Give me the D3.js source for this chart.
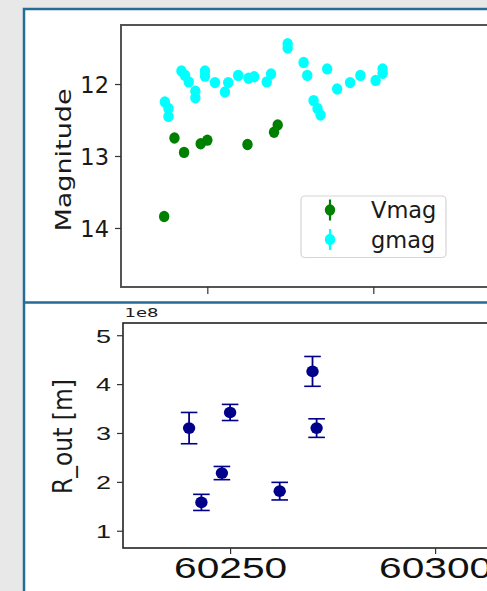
<!DOCTYPE html>
<html>
<head>
<meta charset="utf-8">
<script src="https://cdn.jsdelivr.net/npm/d3@7"></script>
<style>
  html, body { margin: 0; padding: 0; background: #e8e8e8; overflow: hidden; }
  svg { display: block; font-family: "DejaVu Sans", sans-serif; }
</style>
</head>
<body>
<svg id="fig" width="487" height="591"></svg>
<script>
// Photometry: V and g magnitudes against MJD
const mjdV = [60237.0, 60240.1, 60243.0, 60248.0, 60250.0, 60262.1, 60270.1, 60271.2];
const vmag = [13.84, 12.75, 12.95, 12.83, 12.78, 12.84, 12.67, 12.57];

const mjdG = [60237.2, 60238.3, 60238.3, 60242.2, 60243.3, 60244.4, 60246.4, 60246.4,
              60249.3, 60249.3, 60252.3, 60255.3, 60256.3, 60259.3, 60262.4, 60264.1,
              60267.9, 60269.2, 60274.2, 60274.2, 60279.0, 60280.1, 60282.0, 60283.2,
              60284.1, 60286.1, 60289.1, 60293.0, 60296.1, 60300.7, 60302.8, 60302.8];
const gmag = [12.25, 12.34, 12.45, 11.82, 11.88, 11.97, 12.10, 12.19,
              11.82, 11.89, 11.98, 12.11, 11.98, 11.88, 11.92, 11.90,
              11.97, 11.86, 11.44, 11.50, 11.70, 11.88, 12.23, 12.34,
              12.43, 11.79, 12.07, 11.98, 11.88, 11.95, 11.79, 11.85];

// Outer radius (units of 1e8 m) with 1-sigma errors
const mjdR = [60240.0, 60243.0, 60248.0, 60250.0, 60262.1, 60270.1, 60271.1];
const rOut = [3.10, 1.58, 2.18, 3.42, 1.81, 4.26, 3.10];
const rErr = [0.32, 0.165, 0.135, 0.165, 0.18, 0.305, 0.19];

const magTicks = [12, 13, 14];
const rTicks = [1, 2, 3, 4, 5];
const mjdTicks = [60250, 60300];
const mjdTickLabels = ["60250", "60300"];
const seriesNames = ["Vmag", "gmag"];
const seriesColors = ["#008000", "#00ffff"];

const svg = d3.select("#fig");

// figure panel with its frame and divider
svg.append("rect").attr("x", 24).attr("y", 9).attr("width", 600).attr("height", 700)
  .attr("fill", "#ffffff").attr("stroke", "#256d96").attr("stroke-width", 2.5);
svg.append("line").attr("x1", 24).attr("x2", 600).attr("y1", 302.5).attr("y2", 302.5)
  .attr("stroke", "#256d96").attr("stroke-width", 2.5);

// ---------- top panel: magnitudes ----------
const xTop = d3.scaleLinear().domain([60224, 60350]).range([121, 121 + 126 * 3.32]);
const yTop = d3.scaleLinear().domain([11.18, 14.82]).range([25, 287]);

const gTop = svg.append("g");
gTop.append("rect").attr("x", 121).attr("y", 25).attr("width", 600).attr("height", 262)
  .attr("fill", "none").attr("stroke", "#555").attr("stroke-width", 2);

const yAxTop = gTop.append("g").attr("transform", "translate(121,0)")
  .call(d3.axisLeft(yTop).tickValues(magTicks).tickSize(6).tickPadding(6).tickFormat(d3.format("d")));
yAxTop.select(".domain").remove();
yAxTop.selectAll("line").attr("stroke", "#333").attr("stroke-width", 1.2);
yAxTop.selectAll("text").attr("font-family", "DejaVu Sans").attr("font-size", 22.5)
  .attr("fill", "#1a1a1a").attr("dy", "0.37em");

const xAxTop = gTop.append("g").attr("transform", "translate(0,287)")
  .call(d3.axisBottom(xTop).tickValues(mjdTicks).tickSize(7).tickFormat(""));
xAxTop.select(".domain").remove();
xAxTop.selectAll("line").attr("stroke", "#333").attr("stroke-width", 1.2);

gTop.append("text").attr("transform", "translate(70.5,160) rotate(-90)")
  .attr("text-anchor", "middle").attr("font-size", 21.5).attr("fill", "#1a1a1a")
  .attr("textLength", 143).attr("lengthAdjust", "spacingAndGlyphs")
  .text("Magnitude");

gTop.append("g").selectAll("ellipse").data(d3.range(mjdV.length)).join("ellipse")
  .attr("cx", i => xTop(mjdV[i])).attr("cy", i => yTop(vmag[i]))
  .attr("rx", 5.2).attr("ry", 5.7).attr("fill", seriesColors[0]);
gTop.append("g").selectAll("ellipse").data(d3.range(mjdG.length)).join("ellipse")
  .attr("cx", i => xTop(mjdG[i])).attr("cy", i => yTop(gmag[i]))
  .attr("rx", 5.2).attr("ry", 5.7).attr("fill", seriesColors[1]);

// legend
const leg = gTop.append("g");
leg.append("rect").attr("x", 301).attr("y", 196).attr("width", 145).attr("height", 61.5)
  .attr("rx", 4).attr("fill", "#fff").attr("fill-opacity", 0.8)
  .attr("stroke", "#d4d4d4").attr("stroke-width", 1.2);
seriesNames.forEach((name, i) => {
  const cy = 210 + i * 29.5;
  leg.append("line").attr("x1", 330).attr("x2", 330).attr("y1", cy - 10.5).attr("y2", cy + 10.5)
    .attr("stroke", seriesColors[i]).attr("stroke-width", 2.2);
  leg.append("ellipse").attr("cx", 330).attr("cy", cy).attr("rx", 5.2).attr("ry", 5.7)
    .attr("fill", seriesColors[i]);
  leg.append("text").attr("x", 371).attr("y", cy + 8.3).attr("font-size", 22.5)
    .attr("fill", "#1a1a1a").text(name);
});

// ---------- bottom panel: outer radius ----------
const xBot = d3.scaleLinear().domain([60224, 60350]).range([123.5, 123.5 + 126 * 4.1]);
const yBot = d3.scaleLinear().domain([0.647, 5.25]).range([548, 323]);

const gBot = svg.append("g");
gBot.append("rect").attr("x", 123).attr("y", 323).attr("width", 600).attr("height", 225)
  .attr("fill", "none").attr("stroke", "#222").attr("stroke-width", 1.6);

const yAxBot = gBot.append("g").attr("transform", "translate(123,0)")
  .call(d3.axisLeft(yBot).tickValues(rTicks).tickSize(6).tickPadding(6).tickFormat(d3.format("d")));
yAxBot.select(".domain").remove();
yAxBot.selectAll("line").attr("stroke", "#333").attr("stroke-width", 1.2);
yAxBot.selectAll("text").attr("font-size", 18.3).attr("fill", "#1a1a1a").attr("dy", "0.37em")
  .attr("textLength", 15).attr("lengthAdjust", "spacingAndGlyphs");

const xAxBot = gBot.append("g").attr("transform", "translate(0,548)")
  .call(d3.axisBottom(xBot).tickValues(mjdTicks).tickSize(6).tickPadding(3)
    .tickFormat((d, i) => mjdTickLabels[i]));
xAxBot.select(".domain").remove();
xAxBot.selectAll("line").attr("stroke", "#333").attr("stroke-width", 1.2);
xAxBot.selectAll("text").attr("font-size", 29.7).attr("fill", "#111").attr("dy", "0.71em")
  .attr("textLength", 113).attr("lengthAdjust", "spacingAndGlyphs");

gBot.append("text").attr("x", 124.5).attr("y", 317.3).attr("font-size", 12.3).attr("fill", "#1a1a1a")
  .attr("textLength", 34).attr("lengthAdjust", "spacingAndGlyphs").text("1e8");

gBot.append("text").attr("transform", "translate(72,436.5) rotate(-90)")
  .attr("text-anchor", "middle").attr("font-size", 27).attr("fill", "#1a1a1a")
  .attr("textLength", 115).attr("lengthAdjust", "spacingAndGlyphs")
  .text("R_out [m]");

const navy = "#00008b";
const eb = gBot.append("g").selectAll("g").data(d3.range(mjdR.length)).join("g");
eb.append("line")
  .attr("x1", i => xBot(mjdR[i])).attr("x2", i => xBot(mjdR[i]))
  .attr("y1", i => yBot(rOut[i] - rErr[i])).attr("y2", i => yBot(rOut[i] + rErr[i]))
  .attr("stroke", navy).attr("stroke-width", 1.8);
[-1, 1].forEach(s => {
  eb.append("line")
    .attr("x1", i => xBot(mjdR[i]) - 8.3).attr("x2", i => xBot(mjdR[i]) + 8.3)
    .attr("y1", i => yBot(rOut[i] + s * rErr[i])).attr("y2", i => yBot(rOut[i] + s * rErr[i]))
    .attr("stroke", navy).attr("stroke-width", 1.6);
});
eb.append("ellipse")
  .attr("cx", i => xBot(mjdR[i])).attr("cy", i => yBot(rOut[i]))
  .attr("rx", 6.2).attr("ry", 5.8).attr("fill", navy);
</script>
</body>
</html>
